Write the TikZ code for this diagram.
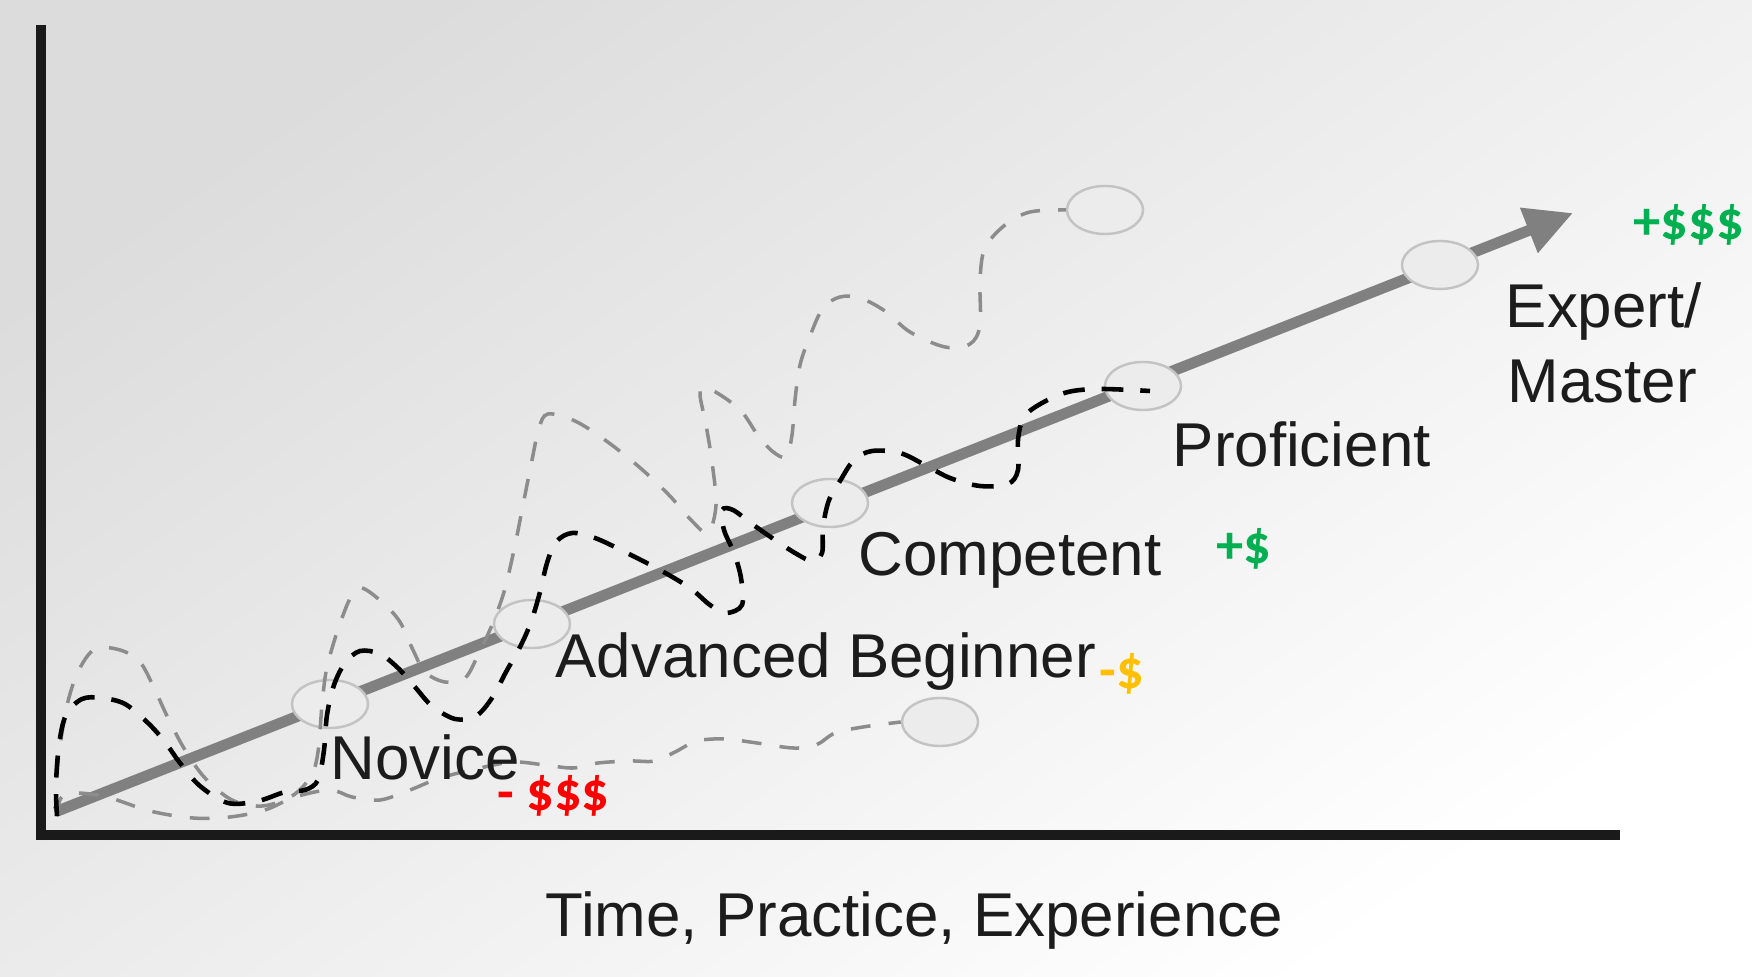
\documentclass[tikz,border=0pt]{standalone}
\usepackage{fontspec}
\setmainfont{Liberation Sans}
\newfontfamily\lblfont{Liberation Sans}
\newfontfamily\dolfont{Carlito}
\usetikzlibrary{shapes.geometric,arrows.meta}
\definecolor{bgdark}{RGB}{220,220,220}
\definecolor{bgmid}{RGB}{242,242,242}
\definecolor{axiscol}{RGB}{26,26,26}
\definecolor{arrowcol}{RGB}{128,128,128}
\definecolor{ellfill}{RGB}{236,236,236}
\definecolor{elldraw}{RGB}{195,195,195}
\definecolor{graydash}{RGB}{140,140,140}
\definecolor{txtcol}{RGB}{28,28,28}
\definecolor{dgreen}{RGB}{0,176,80}
\definecolor{dred}{RGB}{255,0,0}
\definecolor{dgold}{RGB}{255,192,0}
\tikzset{
  stage/.style={ellipse, minimum width=0.76cm, minimum height=0.48cm, inner sep=0pt,
    fill=ellfill, draw=elldraw, line width=0.7pt},
  lbl/.style={font=\lblfont\fontsize{17.6}{21.2}\selectfont, text=txtcol, inner sep=0pt, anchor=base west},
  dol/.style={font=\dolfont\bfseries\fontsize{15.5}{18}\selectfont, inner sep=0pt, anchor=base west},
  blackdash/.style={draw=black, line width=1.3pt, dash pattern=on 6.2pt off 4.8pt},
  greydash/.style={draw=graydash, line width=1pt, dash pattern=on 5.6pt off 5.2pt},
  axisline/.style={draw=axiscol, line width=2.8pt},
  mainarrow/.style={draw=arrowcol, line width=3.1pt, -{Triangle[length=13.5pt,width=13pt]}}
}
\begin{document}
\begin{tikzpicture}[x=0.01cm,y=-0.01cm]
\useasboundingbox (0,0) rectangle (1752,977);
\shade[top color=bgdark, middle color=bgmid, bottom color=white, shading angle=35] (0,0) rectangle (1752,977);

% axes
\coordinate (ytop) at (41,25);
\coordinate (O) at (41,835);
\coordinate (xend) at (1620,835);
\draw[axisline, line join=miter] (ytop) -- (O) -- (xend);

% main arrow
\coordinate (astart) at (55,812);
\coordinate (atip) at (1573,213);
\draw[mainarrow] (astart) -- (atip);

% stage ellipses
\node[stage] (nov) at (330,704) {};
\node[stage] (adv) at (532,624) {};
\node[stage] (comp) at (830,503) {};
\node[stage] (prof) at (1143,386) {};
\node[stage] (exp) at (1440,265) {};
\node[stage] (top) at (1105,210) {};
\node[stage] (low) at (940,722) {};

\coordinate (start) at (57,816);

% lower grey path
\draw[greydash] plot[smooth, tension=0.55] coordinates {
 (start) (61,798) (75,793) (107,797) (150,811) (193,818) (230,817) (265,810)
 (295,797) (330,790) (352,797) (380,800) (410,790) (440,778) (480,768) (513,762)
 (545,765) (573,768) (598,763) (630,761) (655,761) (675,752) (697,741) (725,739)
 (757,743) (793,748) (816,745) (835,733) (863,727) (low.west)};

% upper grey path
\draw[greydash] plot[smooth, tension=0.55] coordinates {
 (start) (57,772) (66,710) (78,672) (95,649) (120,650) (140,662) (155,690) (168,718)
 (185,750) (205,778) (232,800) (262,806) (292,796) (311,776) (318,752) (322,705)
 (326,672) (333,645) (342,618) (351,597) (362,588) (383,603) (400,622) (413,650)
 (425,672) (445,682) (465,678) (478,655) (492,625) (504,592) (514,550) (524,500)
 (532,460) (539,428) (548,414) (575,421) (605,440) (638,466) (668,494) (692,521)
 (708,533) (716,505) (712,462) (706,425) (700,395) (704,387) (722,396) (742,412)
 (757,434) (772,451) (786,457) (792,435) (795,400) (800,365) (810,336) (823,308)
 (840,297) (860,298) (885,311) (910,332) (945,347) (970,344) (980,325) (980,280)
 (985,248) (1005,225) (1030,212) (top.west)};

% black path
\draw[blackdash] plot[smooth, tension=0.55] coordinates {
 (start) (56,785) (59,745) (66,715) (82,699) (102,698) (125,704) (148,723) (165,742)
 (180,763) (200,786) (228,803) (258,801) (285,792) (305,790) (318,780) (324,750)
 (327,715) (334,685) (345,663) (360,651) (380,654) (398,668) (415,687) (432,706)
 (455,719) (476,716) (492,698) (506,672) (520,647) (531,622) (540,592) (547,563)
 (556,542) (572,533) (595,538) (625,552) (660,570) (690,588) (710,605) (726,613)
 (742,605) (741,578) (734,553) (724,530) (722,510) (733,510) (752,524) (775,540)
 (795,553) (812,561) (822,553) (823,527) (829,500) (840,481) (854,460) (872,451)
 (900,453) (925,465) (950,478) (980,486) (1008,484) (1018,470) (1018,440)
 (1024,417) (1042,403) (1068,392) (1100,389) (1150,391)};

% labels
\node[lbl] (tnov) at (330,780) {Novice};
\node[lbl] (tadv) at (555,678) {Advanced Beginner};
\node[lbl] (tcomp) at (858,576) {Competent};
\node[lbl] (tprof) at (1172,467) {Proficient};
\node[lbl] (texp) at (1505,328) {Expert/};
\node[lbl] (tmas) at (1507,403) {Master};
\node[lbl] (txax) at (545,936) {Time, Practice, Experience};

% money labels
\node[dol, text=dgreen] (m4) at (1633,240) {+\$\$\$};
\node[dol, text=dgreen] (m3) at (1216,564) {+\$};
\node[dol, text=dgold] (m2) at (1099,689) {-\$};
\node[dol, text=dred] (m1) at (497,811) {- \$\$\$};
\end{tikzpicture}
\end{document}
